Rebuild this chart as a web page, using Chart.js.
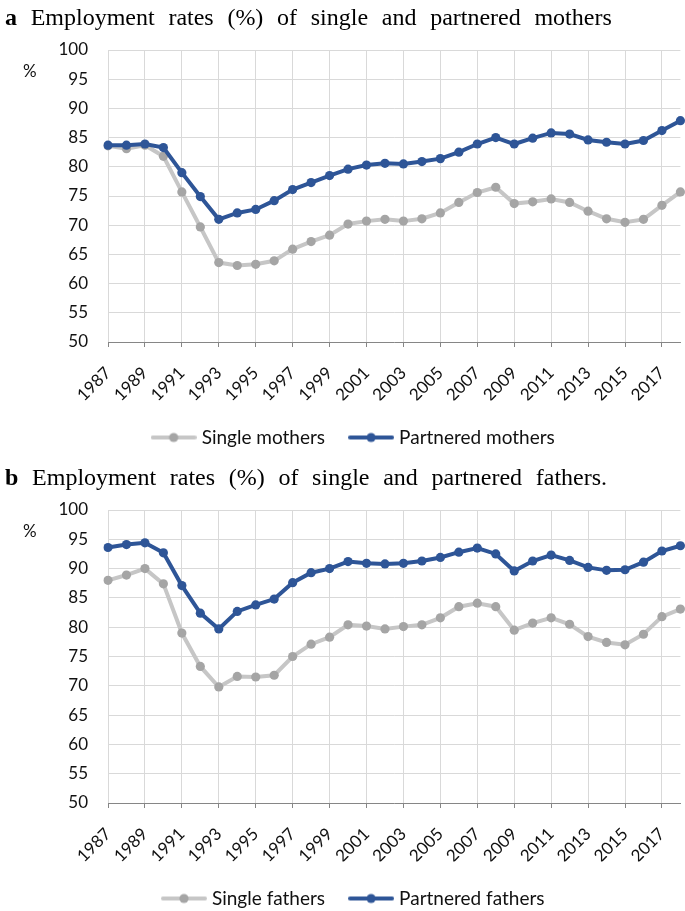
<!DOCTYPE html>
<html><head><meta charset="utf-8">
<script src="https://cdn.jsdelivr.net/npm/chart.js@4/dist/chart.umd.min.js"></script>
<style>
html,body{margin:0;padding:0;background:#fff;overflow:hidden;width:685px;height:911px;}
.panel{position:absolute;left:0;width:685px;height:457px;overflow:hidden;}
.title{position:absolute;left:5px;top:4px;font-family:"Liberation Serif","Times New Roman",serif;font-size:24px;word-spacing:7.7px;color:#000;white-space:nowrap;}
.pct{position:absolute;left:23px;top:60px;font-family:Lato,sans-serif;font-size:17px;color:#111;}
canvas{position:absolute;left:0;top:0;}
</style></head><body>
<div class="panel" style="top:0"><canvas id="ca" width="685" height="457"></canvas><div class="title"><b>a</b> Employment rates (%) of single and partnered mothers</div><div class="pct">%</div></div>
<div class="panel" style="top:460px;height:451px"><canvas id="cb" width="685" height="458"></canvas><div class="title"><b>b</b> Employment rates (%) of single and partnered fathers.</div><div class="pct">%</div></div>
<script>
const years = ['1987','1988','1989','1990','1991','1992','1993','1994','1995','1996','1997','1998','1999','2000','2001','2002','2003','2004','2005','2006','2007','2008','2009','2010','2011','2012','2013','2014','2015','2016','2017','2018'];
const yTicks = [50,55,60,65,70,75,80,85,90,95,100];
const singleMothers = [83.6,83.1,83.7,81.8,75.7,69.7,63.6,63.1,63.3,63.9,65.9,67.2,68.3,70.2,70.7,71.0,70.7,71.1,72.1,73.9,75.6,76.5,73.7,74.0,74.5,73.9,72.4,71.1,70.5,71.0,73.4,75.7];
const partneredMothers = [83.7,83.7,83.9,83.3,79.0,74.9,71.0,72.1,72.7,74.2,76.1,77.3,78.5,79.6,80.3,80.6,80.5,80.9,81.4,82.5,83.9,85.0,83.9,84.9,85.8,85.6,84.6,84.2,83.9,84.5,86.2,87.9];
const singleFathers = [88.0,88.9,90.0,87.4,79.0,73.3,69.8,71.6,71.5,71.8,75.0,77.1,78.3,80.4,80.2,79.7,80.1,80.4,81.6,83.5,84.1,83.5,79.5,80.7,81.6,80.5,78.4,77.4,77.0,78.8,81.8,83.1];
const partneredFathers = [93.6,94.1,94.4,92.7,87.1,82.4,79.7,82.7,83.8,84.8,87.6,89.3,90.0,91.2,90.9,90.8,90.9,91.3,91.9,92.8,93.5,92.5,89.6,91.3,92.3,91.4,90.2,89.7,89.8,91.1,93.0,93.9];

const GREY_LINE = '#c6c6c6', GREY_PT = '#a5a5a5', BLUE = '#2e5597';
const FONT = {family: 'Lato, "Open Sans", sans-serif', size: 17};
const YFONT = {family: 'Lato, "Open Sans", sans-serif', size: 17};
const LFONT = {family: 'Lato, "Open Sans", sans-serif', size: 19};

function icon(lineColor, ptColor){
  const c = document.createElement('canvas');
  c.width = 46; c.height = 12;
  const g = c.getContext('2d');
  g.strokeStyle = lineColor; g.lineWidth = 4; g.lineCap = 'round';
  g.beginPath(); g.moveTo(2,6); g.lineTo(44,6); g.stroke();
  g.fillStyle = ptColor; g.beginPath(); g.arc(23,6,4.6,0,Math.PI*2); g.fill();
  return c;
}
const icons = [icon(GREY_LINE, GREY_PT), icon(BLUE, BLUE)];

function makeChart(id, names, single, partnered){
  return new Chart(document.getElementById(id), {
    type: 'line',
    data: {
      labels: years,
      datasets: [
        {label: names[0], data: single, borderColor: GREY_LINE, backgroundColor: GREY_PT,
         pointBackgroundColor: GREY_PT, pointBorderColor: GREY_PT, borderWidth: 4,
         pointRadius: 4.6, pointBorderWidth: 0, tension: 0, order: 1},
        {label: names[1], data: partnered, borderColor: BLUE, backgroundColor: BLUE,
         pointBackgroundColor: BLUE, pointBorderColor: BLUE, borderWidth: 4,
         pointRadius: 4.6, pointBorderWidth: 0, tension: 0, order: 0}
      ]
    },
    options: {
      responsive: false, animation: false,
      layout: {padding: {top: 50, left: 29, right: 4, bottom: 0}},
      scales: {
        x: {
          type: 'category', offset: false,
          border: {display: true, color: '#868686', width: 1},
          grid: {
            color: c => (c.index % 2 === 0 ? '#d9d9d9' : 'rgba(0,0,0,0)'),
            tickColor: c => (c.index % 2 === 0 ? '#868686' : 'rgba(0,0,0,0)'),
            tickLength: 5, drawOnChartArea: true
          },
          ticks: {
            autoSkip: false, maxRotation: 45, minRotation: 45, color: '#111', font: FONT, padding: 16,
            callback: (v, i) => (i % 2 === 0 ? years[i] : '')
          },
          afterFit: s => { s.height = 58.5; s.paddingRight = 0; s.paddingLeft = 0; }
        },
        y: {
          min: 50, max: 100,
          border: {display: false},
          grid: {color: '#d9d9d9', drawTicks: false},
          ticks: {stepSize: 5, color: '#111', font: YFONT, padding: 20,
            callback: v => (yTicks.includes(v) ? String(v) : '')},
          afterFit: s => { s.width = 79; }
        }
      },
      plugins: {
        tooltip: {enabled: false},
        legend: {
          position: 'bottom',
          labels: {
            font: LFONT, color: '#111', usePointStyle: true, pointStyleWidth: 37, boxHeight: 12, padding: 27.5,
            generateLabels: chart => {
              const items = Chart.defaults.plugins.legend.labels.generateLabels(chart);
              items.sort((a, b) => a.datasetIndex - b.datasetIndex);
              items.forEach(it => { it.pointStyle = icons[it.datasetIndex]; it.lineWidth = 0; });
              return items;
            }
          }
        }
      }
    }
  });
}
makeChart('ca', ['Single mothers', 'Partnered mothers'], singleMothers, partneredMothers);
makeChart('cb', ['Single fathers', 'Partnered fathers'], singleFathers, partneredFathers);
</script>
</body></html>
